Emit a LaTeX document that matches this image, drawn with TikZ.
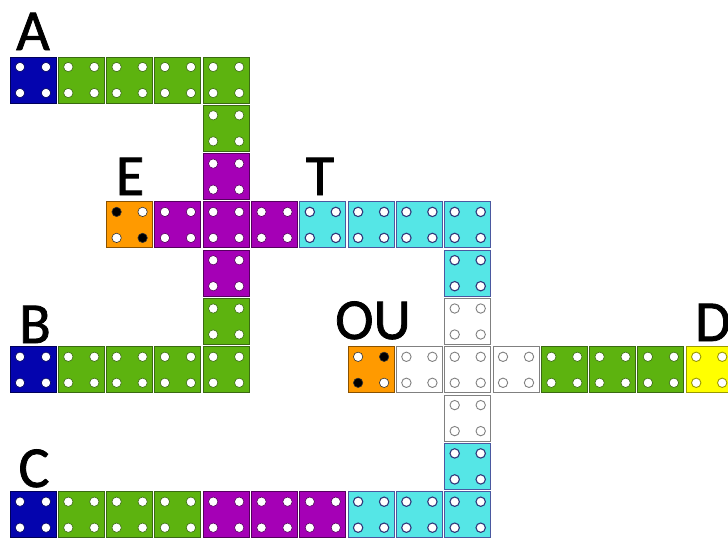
\documentclass[tikz,border=0pt]{standalone}
\usepackage{fontspec}
\setmainfont{Carlito}
\newfontfamily\labfont[FakeBold=1.3]{Carlito}
\definecolor{cgreen}{HTML}{5DB30F}
\definecolor{bgreen}{HTML}{3A6A12}
\definecolor{cblue}{HTML}{0404AE}
\definecolor{bblue}{HTML}{00005A}
\definecolor{cpurple}{HTML}{A500B6}
\definecolor{bpurple}{HTML}{55005E}
\definecolor{ccyan}{HTML}{55E6E6}
\definecolor{bcyan}{HTML}{4A58A0}
\definecolor{dcyan}{HTML}{30387A}
\definecolor{corange}{HTML}{FF9A00}
\definecolor{borange}{HTML}{8A5200}
\definecolor{bwhite}{HTML}{808080}
\definecolor{cyellow}{HTML}{FFFF00}
\definecolor{byellow}{HTML}{9A9A00}
\tikzset{
  cellbox/.style={rectangle, minimum size=46pt, inner sep=0pt, outer sep=0pt, line width=1pt},
  fourdots/.style 2 args={path picture={
    \foreach \px in {-13,13}{\foreach \py in {-13,13}{
      \filldraw[fill=white,draw=#1,line width=#2]
        ([xshift=\px pt,yshift=\py pt]path picture bounding box.center) circle[radius=4.7pt];}}}},
  gcell/.style={cellbox, fill=cgreen, draw=bgreen, fourdots={bgreen}{0.6pt}},
  bcell/.style={cellbox, fill=cblue, draw=bblue, fourdots={bblue}{0.6pt}},
  pcell/.style={cellbox, fill=cpurple, draw=bpurple, fourdots={bpurple}{0.6pt}},
  ccell/.style={cellbox, fill=ccyan, draw=bcyan, fourdots={dcyan}{1.1pt}},
  wcell/.style={cellbox, fill=white, draw=bwhite, fourdots={bwhite}{0.9pt}},
  ycell/.style={cellbox, fill=cyellow, draw=byellow, fourdots={byellow}{0.9pt}},
  ocellE/.style={cellbox, fill=corange, draw=borange, path picture={
    \foreach \px/\py/\c in {-13/13/black,13/13/white,-13/-13/white,13/-13/black}{
      \filldraw[fill=\c,draw=black!80,line width=0.6pt]
        ([xshift=\px pt,yshift=\py pt]path picture bounding box.center) circle[radius=4.7pt];}}},
  ocellO/.style={cellbox, fill=corange, draw=borange, path picture={
    \foreach \px/\py/\c in {-13/13/white,13/13/black,-13/-13/black,13/-13/white}{
      \filldraw[fill=\c,draw=black!80,line width=0.6pt]
        ([xshift=\px pt,yshift=\py pt]path picture bounding box.center) circle[radius=4.7pt];}}},
  lab/.style={font=\labfont\fontsize{58}{58}\selectfont, inner sep=0pt, anchor=base}
}
\newcommand\putcell[4]{\node[#4] (#1) at ({33+48.3*#2},{80+48.3*#3}) {};}
\begin{document}
\begin{tikzpicture}[x=1pt,y=-1pt]
\useasboundingbox (0,0) rectangle (728,539);
\clip (0,0) rectangle (728,539);
\fill[white] (0,0) rectangle (728,539);
% row 0
\putcell{a0}{0}{0}{bcell}
\foreach \i in {1,...,4}{\putcell{a\i}{\i}{0}{gcell}}
\putcell{v1}{4}{1}{gcell}
\putcell{v2}{4}{2}{pcell}
% row 3
\putcell{e0}{2}{3}{ocellE}
\foreach \i in {3,4,5}{\putcell{e\i}{\i}{3}{pcell}}
\foreach \i in {6,...,9}{\putcell{t\i}{\i}{3}{ccell}}
% row 4, 5
\putcell{v4}{4}{4}{pcell}
\putcell{w4}{9}{4}{ccell}
\putcell{v5}{4}{5}{gcell}
\putcell{w5}{9}{5}{wcell}
% row 6
\putcell{b0}{0}{6}{bcell}
\foreach \i in {1,...,4}{\putcell{b\i}{\i}{6}{gcell}}
\putcell{o7}{7}{6}{ocellO}
\foreach \i in {8,9,10}{\putcell{o\i}{\i}{6}{wcell}}
\foreach \i in {11,12,13}{\putcell{o\i}{\i}{6}{gcell}}
\putcell{d14}{14}{6}{ycell}
% row 7, 8
\putcell{w7}{9}{7}{wcell}
\putcell{w8}{9}{8}{ccell}
% row 9
\putcell{c0}{0}{9}{bcell}
\foreach \i in {1,2,3}{\putcell{c\i}{\i}{9}{gcell}}
\foreach \i in {4,5,6}{\putcell{c\i}{\i}{9}{pcell}}
\foreach \i in {7,8,9}{\putcell{c\i}{\i}{9}{ccell}}
% labels
\node[lab] (labA) at (33,50) {A};
\node[lab] (labE) at (130,195) {E};
\node[lab] (labT) at (320,195) {T};
\node[lab] (labB) at (35,343) {B};
\node[lab] (labOU) at (373,339) {OU};
\node[lab] (labD) at (713,341) {D};
\node[lab] (labC) at (34,487) {C};
\end{tikzpicture}
\end{document}
